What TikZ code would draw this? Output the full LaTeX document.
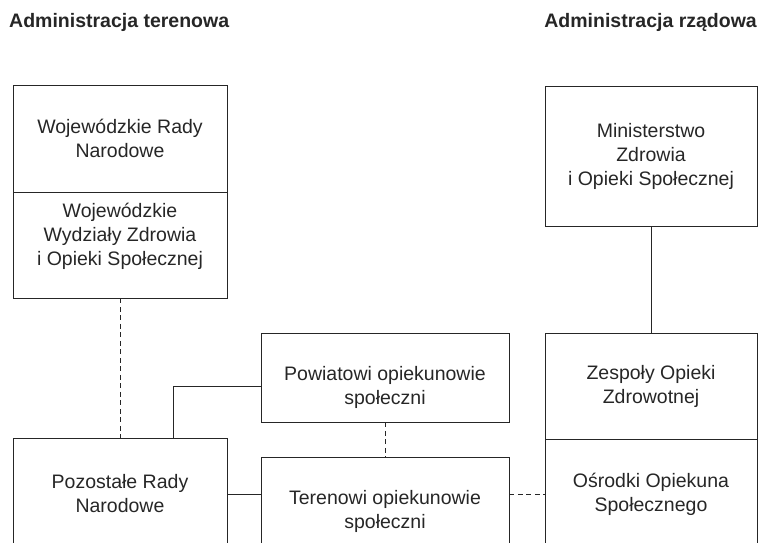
\documentclass[tikz,border=0pt]{standalone}
\usepackage{fontspec}
\setmainfont{Liberation Sans}
\usepackage{tikz}
\usetikzlibrary{calc}
\definecolor{ink}{HTML}{262626}

\begin{document}
\begin{tikzpicture}[x=1pt, y=-1pt,
		boxtext/.style={text=ink, align=center, inner sep=0pt,
			font=\fontsize{19.5}{24}\selectfont},
		box/.style={boxtext, draw=ink, line width=0.9pt},
		title/.style={text=ink, inner sep=0pt, font=\fontsize{19.5}{24}\selectfont\bfseries},
		link/.style={draw=ink, line width=0.9pt},
		dashlink/.style={link, dash pattern=on 5pt off 3.5pt}]
			%%%%% START %%%%%
			\useasboundingbox (0, 0) rectangle (760, 542);
			\clip (0, 0) rectangle (760, 542);
			
			\node[title, anchor=base west] (teren) at (9, 27) {Administracja terenowa};
			\node[title, anchor=base east] (rzad) at (757, 27) {Administracja rządowa};
			
			\node[box, minimum width=214, minimum height=107] (wrn) at (120, 138.5) {Wojewódzkie Rady\\Narodowe};
			\node[box, minimum width=214, minimum height=106,
				label={[boxtext, yshift=9pt]center:Wojewódzkie\\Wydziały Zdrowia\\i Opieki Społecznej}] (wwz) at (120, 245) {};
			\node[box, minimum width=214, minimum height=112] (poz) at (120, 494) {Pozostałe Rady\\Narodowe};
			
			\node[box, minimum width=248, minimum height=89,
				label={[boxtext, yshift=-10pt]center:Powiatowi opiekunowie\\społeczni}] (pow) at (385, 377.5) {};
			\node[box, minimum width=248, minimum height=108] (ter) at (385, 511) {Terenowi opiekunowie\\społeczni};
			
			\node[box, minimum width=212, minimum height=140] (min) at (651, 156) {Ministerstwo\\Zdrowia\\i Opieki Społecznej};
			\node[box, minimum width=212, minimum height=106] (zoz) at (651, 386) {Zespoły Opieki\\Zdrowotnej};
			\node[box, minimum width=212, minimum height=110] (oos) at (651, 494) {Ośrodki Opiekuna\\Społecznego};
			
			\draw[dashlink] (wwz) -- (poz);
			\draw[link] ([xshift=53pt]poz.north) |- ([yshift=-9pt]pow.west);
			\draw[dashlink] (pow) -- (ter);
			\draw[link] (poz.east) -- (poz.east -| ter.west);
			\draw[dashlink] (oos.west -| ter.east) -- (oos.west);
			\draw[link] (min) -- (zoz);
			%%%%% END %%%%%
		\end{tikzpicture}
\end{document}
